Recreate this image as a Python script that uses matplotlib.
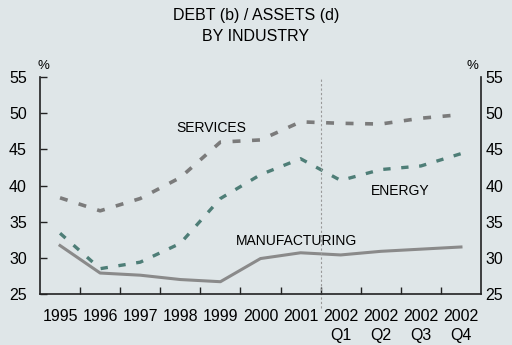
import matplotlib.pyplot as plt

plt.rcParams['font.family'] = ['Liberation Sans', 'DejaVu Sans']

periods = ['1995', '1996', '1997', '1998', '1999', '2000', '2001',
           '2002\nQ1', '2002\nQ2', '2002\nQ3', '2002\nQ4']
services = [38.3, 36.5, 38.2, 41.1, 46.0, 46.3, 48.8, 48.6, 48.5, 49.3, 49.8]
energy = [33.4, 28.5, 29.4, 32.0, 38.2, 41.5, 43.7, 40.7, 42.2, 42.7, 44.4]
manufacturing = [31.7, 27.9, 27.6, 27.0, 26.7, 29.9, 30.7, 30.4, 30.9, 31.2, 31.5]

bg = '#dfe6e8'
fig = plt.figure(figsize=(5.12, 3.45), dpi=100, facecolor=bg)
ax = fig.add_axes([40/512, 51/345, 441/512, 217/345])
ax.set_facecolor(bg)

x = list(range(len(periods)))
ax.plot(x, services, color='#7b7b7b', lw=2.6, dashes=(2.2, 3.2))
ax.plot(x, energy, color='#4e7e77', lw=2.4, dashes=(2.2, 3.2))
ax.plot(x, manufacturing, color='#8a8a8a', lw=2.2)

ax.axvline(6.5, ymin=-0.065, ymax=1.0, color='#999999', lw=0.8, ls=(0, (2, 2)), clip_on=False)

ax.set_xlim(-0.5, len(periods) - 0.5)
ax.set_ylim(25, 55)
yt = [25, 30, 35, 40, 45, 50, 55]
ax.set_yticks(yt)
ax.set_xticks([i + 0.5 for i in range(len(periods) - 1)])
ax.set_xticklabels([])
ax.set_xticks(x, minor=True)
ax.set_xticklabels(periods, minor=True, linespacing=1.3)
ax.tick_params(axis='x', which='major', direction='in', length=5, width=1, color='#222222')
ax.tick_params(axis='x', which='minor', length=0, pad=11, labelsize=11.5)
ax.tick_params(axis='y', direction='in', length=5, width=1, color='#222222',
               labelsize=11.5, right=True, labelright=False, pad=9.5)

ax2 = ax.twinx()
ax2.set_ylim(25, 55)
ax2.set_yticks(yt)
ax2.tick_params(axis='y', direction='in', length=0, labelsize=11.5, pad=3)
for s in ax2.spines.values():
    s.set_visible(False)

ax.spines['top'].set_visible(False)
for s in ['left', 'right', 'bottom']:
    ax.spines[s].set_color('#222222')
    ax.spines[s].set_linewidth(1.2)

ax.text(0.007, 1.025, '%', transform=ax.transAxes, ha='center', va='bottom', fontsize=9.5)
ax.text(0.98, 1.025, '%', transform=ax.transAxes, ha='center', va='bottom', fontsize=9.5)

ax.text(3.78, 48.0, 'SERVICES', fontsize=10, ha='center', va='center')
ax.text(8.49, 39.25, 'ENERGY', fontsize=10, ha='center', va='center')
ax.text(5.89, 32.35, 'MANUFACTURING', fontsize=10, ha='center', va='center')

fig.text(0.5, 1 - 8/345, 'DEBT (b) / ASSETS (d)\nBY INDUSTRY', ha='center', va='top',
         fontsize=11.5, linespacing=1.5)

fig.savefig('out.png', dpi=100, facecolor=bg)
